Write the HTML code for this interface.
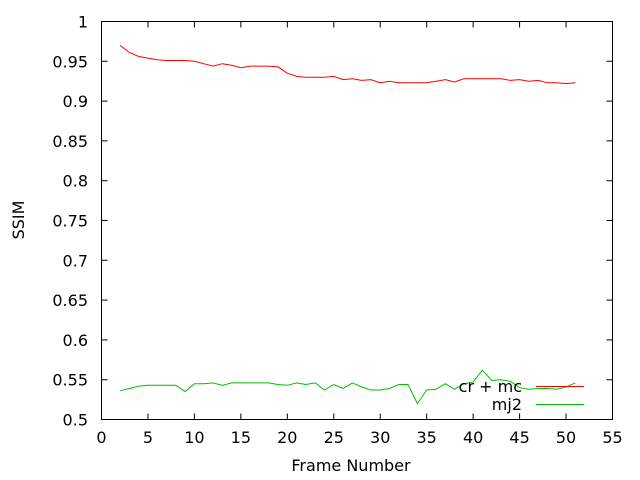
<!DOCTYPE html>
<html><head><meta charset="utf-8"><style>
html,body{margin:0;padding:0;background:#fff;}
svg{display:block;font-family:"DejaVu Sans","Liberation Sans",sans-serif;font-size:16px;}
</style></head><body>
<svg id="chart" width="640" height="480"></svg>
<script>
const frames = [2,3,4,5,6,7,8,9,10,11,12,13,14,15,16,17,18,19,20,21,22,23,24,25,26,27,28,29,30,31,32,33,34,35,36,37,38,39,40,41,42,43,44,45,46,47,48,49,50,51];
const crmc = [0.970,0.961,0.956,0.954,0.952,0.951,0.951,0.951,0.950,0.947,0.944,0.947,0.945,0.942,0.944,0.944,0.944,0.943,0.935,0.931,0.930,0.930,0.930,0.931,0.927,0.928,0.926,0.927,0.923,0.925,0.923,0.923,0.923,0.923,0.925,0.927,0.924,0.928,0.928,0.928,0.928,0.928,0.926,0.927,0.925,0.926,0.923,0.923,0.922,0.923];
const mj2 = [0.536,0.539,0.542,0.543,0.543,0.543,0.543,0.535,0.545,0.545,0.546,0.543,0.546,0.546,0.546,0.546,0.546,0.544,0.543,0.546,0.544,0.546,0.537,0.544,0.539,0.546,0.541,0.537,0.537,0.539,0.544,0.544,0.520,0.537,0.538,0.545,0.538,0.545,0.547,0.562,0.549,0.550,0.548,0.540,0.538,0.539,0.539,0.538,0.541,0.546];
const xTicks = [0,5,10,15,20,25,30,35,40,45,50,55];
const yTicks = [0.5,0.55,0.6,0.65,0.7,0.75,0.8,0.85,0.9,0.95,1];
const yTickLabels = ["0.5","0.55","0.6","0.65","0.7","0.75","0.8","0.85","0.9","0.95","1"];

const L=101.5,R=612.5,T=21.5,B=419.5;
const xs=v=>L+(v-0)/55*(R-L);
const ys=v=>B-(v-0.5)/0.5*(B-T);
const NS="http://www.w3.org/2000/svg";
const svg=document.getElementById('chart');
function mk(tag,attrs,parent){const e=document.createElementNS(NS,tag);for(const k in attrs)e.setAttribute(k,attrs[k]);(parent||svg).appendChild(e);return e;}

const frame=mk('rect',{x:L,y:T,width:R-L,height:B-T,fill:'none',stroke:'#000','stroke-width':1});



xTicks.forEach((t,i)=>{
  const x=xs(t);
  const tk=mk('path',{d:`M${x},${B}v-6M${x},${T}v6`,stroke:'#000','stroke-width':1});
  
  
  const lb=mk('text',{x:x,y:443,'text-anchor':'middle',fill:'#000'});
  lb.textContent=String(t);
  
  
});
yTicks.forEach((t,i)=>{
  const y=ys(t);
  const tk=mk('path',{d:`M${L},${y}h6M${R},${y}h-6`,stroke:'#000','stroke-width':1});
  
  
  const lb=mk('text',{x:88,y:y+6,'text-anchor':'end',fill:'#000'});
  lb.textContent=yTickLabels[i];
  
  
});

const xt=mk('text',{x:351,y:471,'text-anchor':'middle',fill:'#000'});
xt.textContent='Frame Number';


const yt=mk('text',{x:0,y:0,'text-anchor':'middle',fill:'#000',transform:'translate(24,220) rotate(-90)'});
yt.textContent='SSIM';



function line(vals){return frames.map((f,i)=>(i?'L':'M')+xs(f).toFixed(1)+','+ys(vals[i]).toFixed(1)).join('');}
const s1=mk('path',{d:line(crmc),fill:'none',stroke:'#ff0000','stroke-width':1});


const s2=mk('path',{d:line(mj2),fill:'none',stroke:'#00c000','stroke-width':1});



const lt1=mk('text',{x:522,y:392,'text-anchor':'end',fill:'#000'});
lt1.textContent='cr + mc';


const ll1=mk('path',{d:'M536,386.5H584',stroke:'#ff0000','stroke-width':1});


const lt2=mk('text',{x:522,y:410,'text-anchor':'end',fill:'#000'});
lt2.textContent='mj2';


const ll2=mk('path',{d:'M536,404.5H584',stroke:'#00c000','stroke-width':1});


</script>
</body></html>
